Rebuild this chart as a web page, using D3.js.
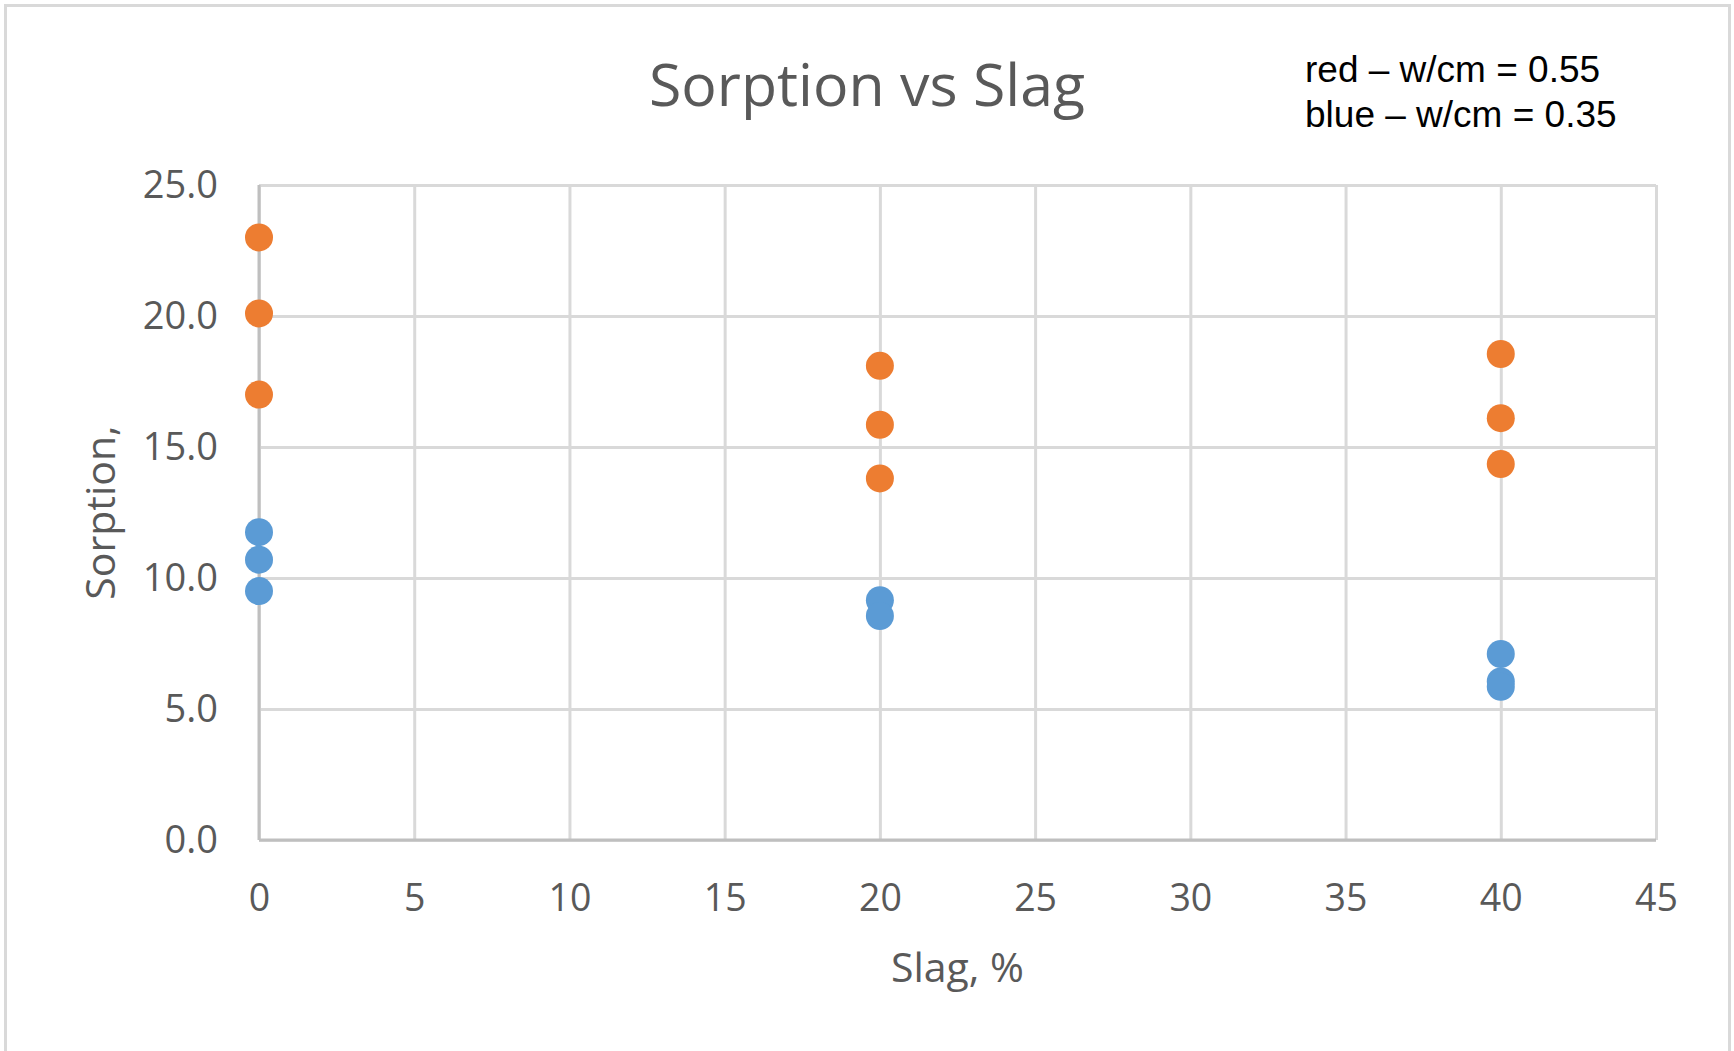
<!DOCTYPE html>
<html>
<head>
<meta charset="utf-8">
<script src="https://cdn.jsdelivr.net/npm/d3@7.9.0/dist/d3.min.js"></script>
<style>
  body { margin: 0; background: #fff; }
  svg { display: block; }
</style>
</head>
<body>
<svg id="chart"></svg>
<script>
// values
const xTicks = [0, 5, 10, 15, 20, 25, 30, 35, 40, 45];
const yTicks = [0, 5, 10, 15, 20, 25];

// w/cm = 0.55 (orange)
const slagHigh = [0, 0, 0, 20, 20, 20, 40, 40, 40];
const sorptionHigh = [23.0, 20.1, 17.0, 18.1, 15.85, 13.8, 18.55, 16.1, 14.35];

// w/cm = 0.35 (blue)
const slagLow = [0, 0, 0, 20, 20, 40, 40, 40];
const sorptionLow = [11.75, 10.7, 9.5, 9.15, 8.55, 7.1, 6.05, 5.85];

const notes = ['red \u2013 w/cm = 0.55', 'blue \u2013 w/cm = 0.35'];

const width = 1734;
const height = 1051;
const margin = { top: 185, right: 78, bottom: 211, left: 259 };
const font = '"Open Sans", "Noto Sans", sans-serif';
const textColor = '#595959';

const svg = d3.select('#chart').attr('width', width).attr('height', height);

// outer chart frame
svg
  .append('rect')
  .attr('x', 5.5)
  .attr('y', 5.5)
  .attr('width', 1724)
  .attr('height', 1100)
  .attr('fill', 'white')
  .attr('stroke', '#d9d9d9')
  .attr('stroke-width', 3);

const xScale = d3
  .scaleLinear()
  .domain([0, 45])
  .range([margin.left, width - margin.right]);

const yScale = d3
  .scaleLinear()
  .domain([0, 25])
  .range([height - margin.bottom, margin.top]);

// gridlines
svg
  .append('g')
  .attr('transform', `translate(0, ${height - margin.bottom})`)
  .call(
    d3.axisBottom(xScale)
      .tickValues(xTicks)
      .tickSize(-(height - margin.bottom - margin.top))
      .tickFormat('')
  )
  .call((g) => g.select('.domain').remove())
  .call((g) => g.selectAll('line').attr('stroke', '#d9d9d9').attr('stroke-width', 3));

svg
  .append('g')
  .attr('transform', `translate(${margin.left}, 0)`)
  .call(
    d3.axisLeft(yScale)
      .tickValues(yTicks)
      .tickSize(-(width - margin.right - margin.left))
      .tickFormat('')
  )
  .call((g) => g.select('.domain').remove())
  .call((g) => g.selectAll('line').attr('stroke', '#d9d9d9').attr('stroke-width', 3));

// axis lines
svg
  .append('line')
  .attr('x1', xScale(0))
  .attr('x2', xScale(0))
  .attr('y1', yScale(25))
  .attr('y2', yScale(0))
  .attr('stroke', '#bfbfbf')
  .attr('stroke-width', 3);

svg
  .append('line')
  .attr('x1', xScale(0))
  .attr('x2', xScale(45))
  .attr('y1', yScale(0))
  .attr('y2', yScale(0))
  .attr('stroke', '#bfbfbf')
  .attr('stroke-width', 3);

// tick labels
const xAxis = svg
  .append('g')
  .attr('transform', `translate(0, ${height - margin.bottom})`)
  .call(d3.axisBottom(xScale).tickValues(xTicks).tickSize(0).tickPadding(44));
xAxis.select('.domain').remove();
xAxis
  .selectAll('text')
  .attr('font-family', font)
  .attr('font-size', 37.5)
  .attr('fill', textColor);

const yAxis = svg
  .append('g')
  .attr('transform', `translate(${margin.left}, 0)`)
  .call(
    d3.axisLeft(yScale)
      .tickValues(yTicks)
      .tickSize(0)
      .tickPadding(41)
      .tickFormat(d3.format('.1f'))
  );
yAxis.select('.domain').remove();
yAxis
  .selectAll('text')
  .attr('font-family', font)
  .attr('font-size', 38)
  .attr('fill', textColor);

// points
svg
  .append('g')
  .selectAll('circle')
  .data(sorptionHigh)
  .join('circle')
  .attr('cx', (d, i) => xScale(slagHigh[i]))
  .attr('cy', (d) => yScale(d))
  .attr('r', 14)
  .attr('fill', '#ed7d31');

svg
  .append('g')
  .selectAll('circle')
  .data(sorptionLow)
  .join('circle')
  .attr('cx', (d, i) => xScale(slagLow[i]))
  .attr('cy', (d) => yScale(d))
  .attr('r', 14)
  .attr('fill', '#5b9bd5');

// titles
svg
  .append('text')
  .attr('x', 867)
  .attr('y', 106)
  .attr('text-anchor', 'middle')
  .attr('font-family', font)
  .attr('font-size', 59)
  .attr('fill', textColor)
  .text('Sorption vs Slag');

svg
  .append('text')
  .attr('x', (xScale(0) + xScale(45)) / 2)
  .attr('y', 982)
  .attr('text-anchor', 'middle')
  .attr('font-family', font)
  .attr('font-size', 41)
  .attr('fill', textColor)
  .text('Slag, %');

svg
  .append('text')
  .attr('transform', `translate(115, ${(yScale(0) + yScale(25)) / 2}) rotate(-90)`)
  .attr('text-anchor', 'middle')
  .attr('font-family', font)
  .attr('font-size', 41)
  .attr('fill', textColor)
  .text('Sorption,');

// note in the corner
svg
  .append('g')
  .selectAll('text')
  .data(notes)
  .join('text')
  .attr('x', 1305)
  .attr('y', (d, i) => 82 + i * 45)
  .attr('font-family', 'Arial, "Liberation Sans", sans-serif')
  .attr('font-size', 37)
  .attr('fill', '#000')
  .text((d) => d);
</script>
</body>
</html>
